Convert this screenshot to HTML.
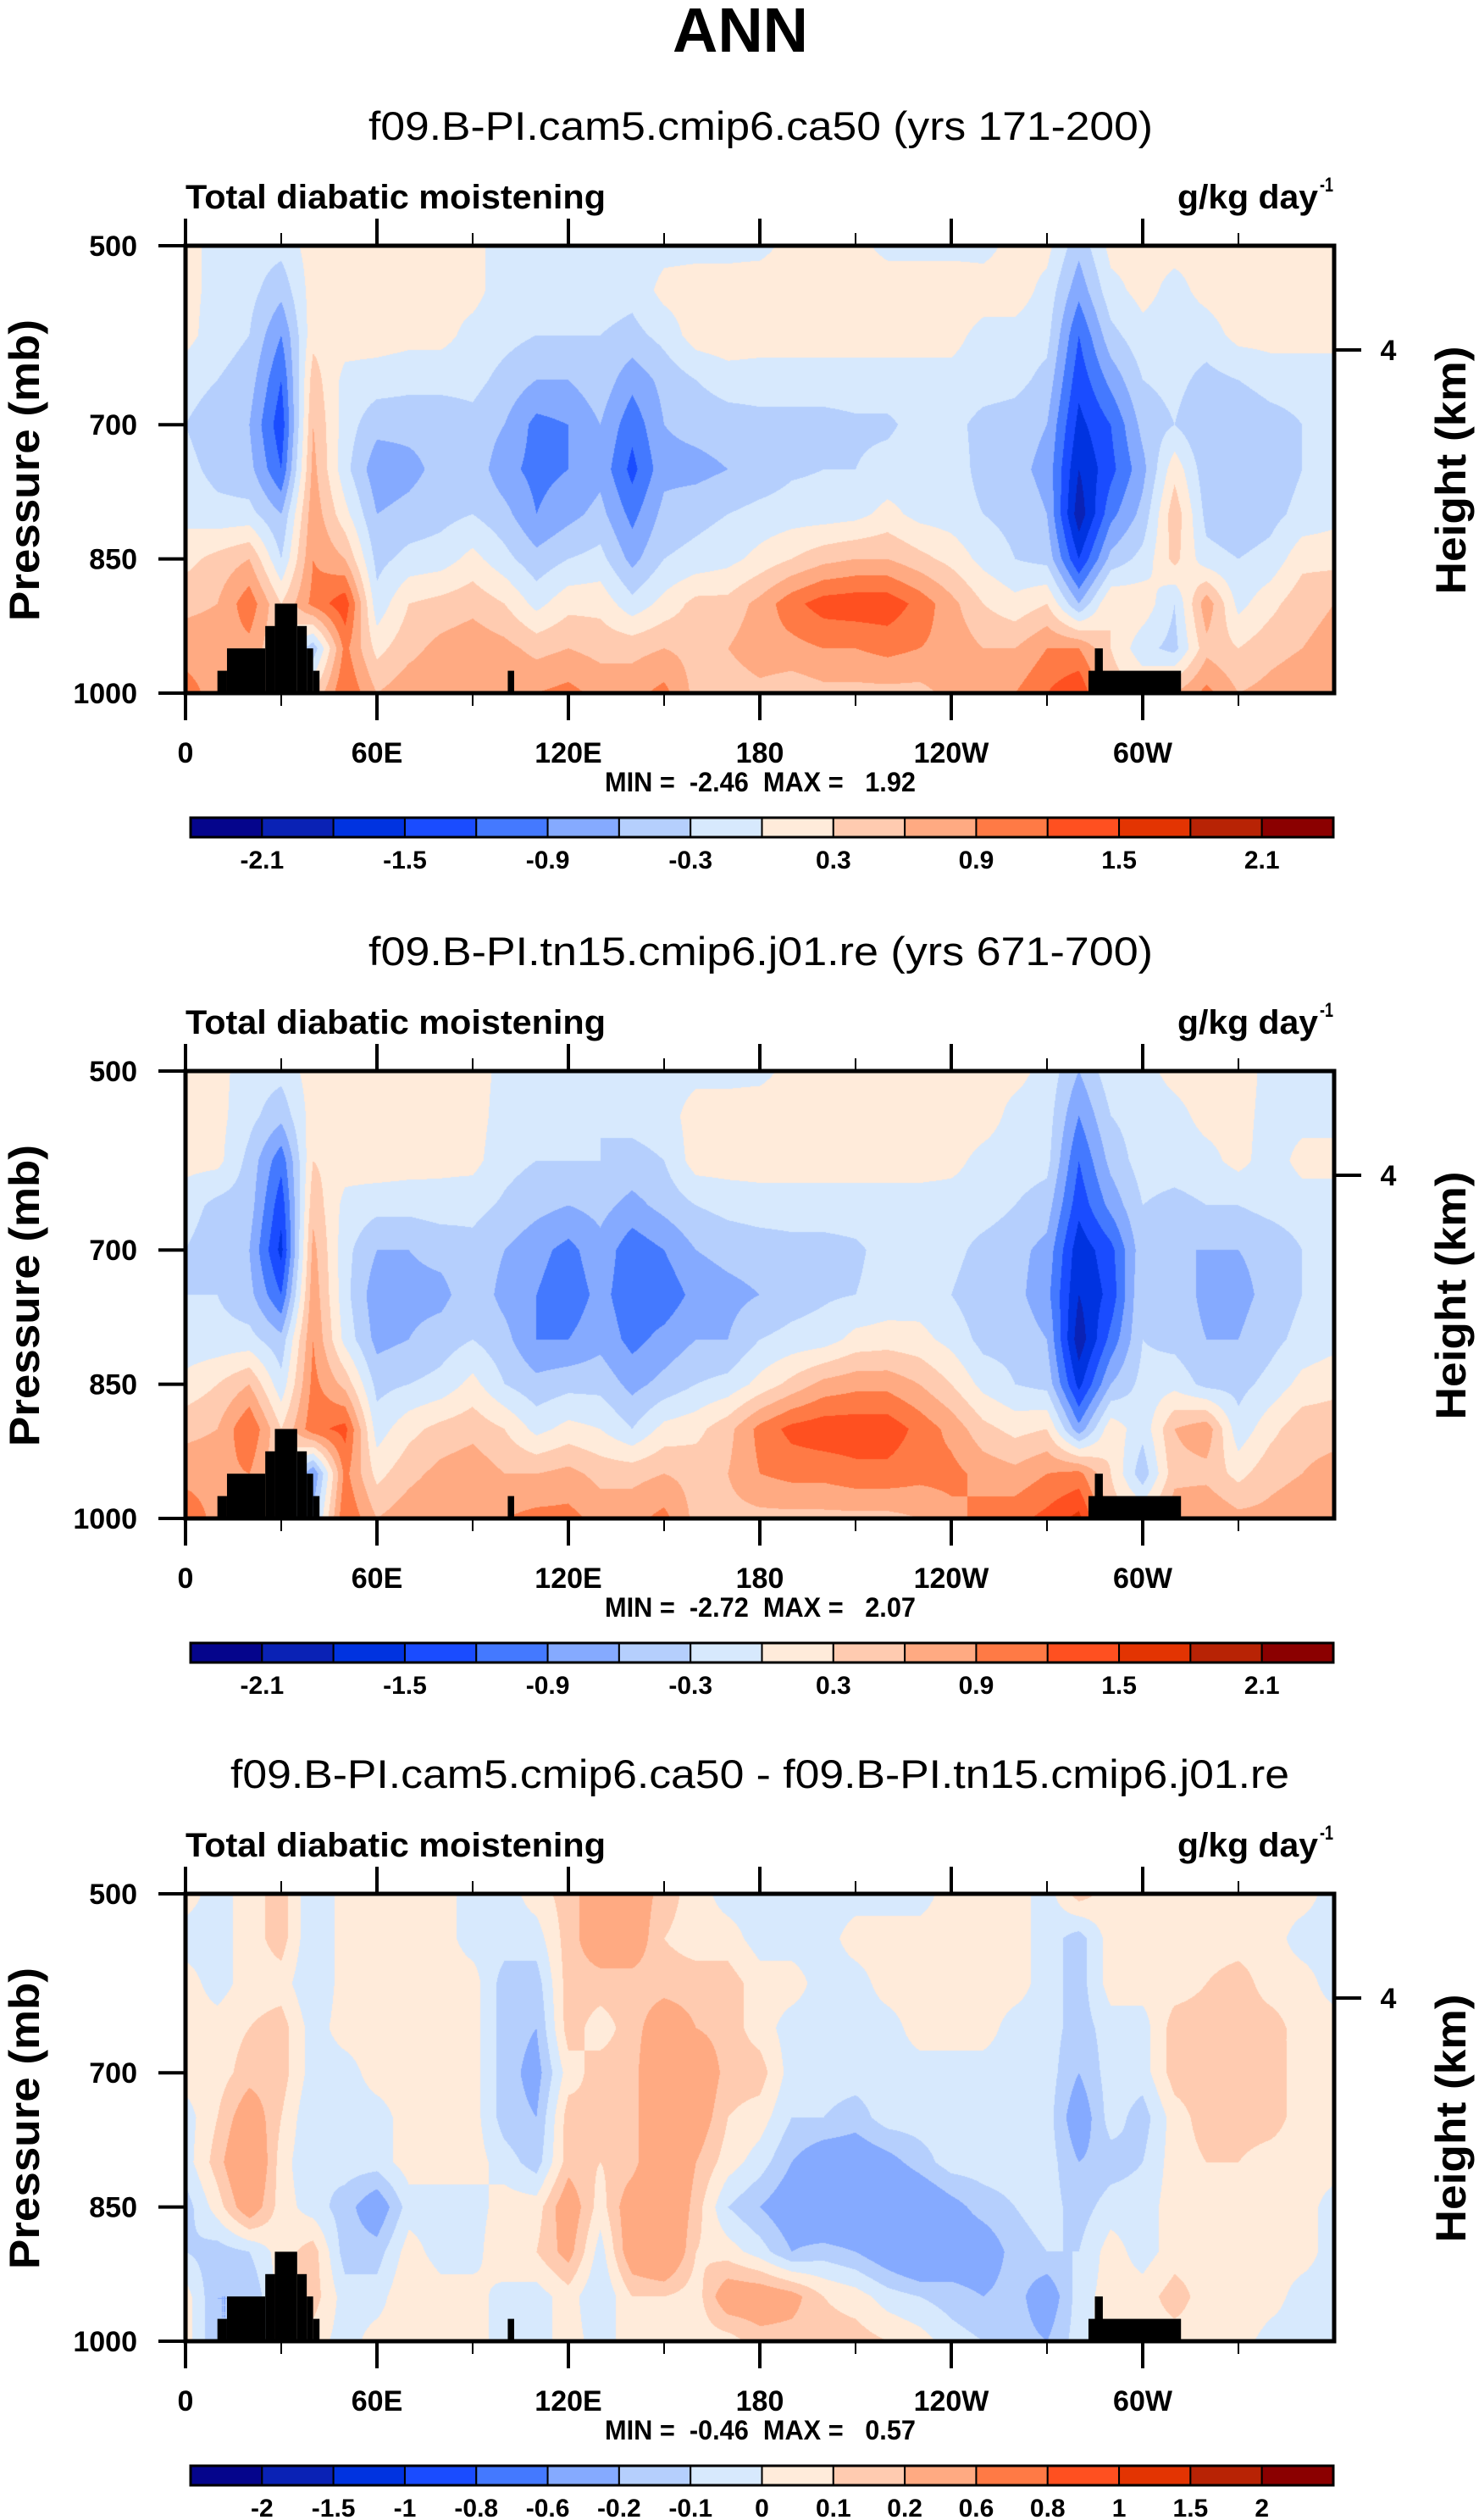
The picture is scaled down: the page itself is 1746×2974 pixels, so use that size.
<!DOCTYPE html>
<html><head><meta charset="utf-8">
<style>
body{margin:0;background:#fff;width:1746px;height:2974px;position:relative;overflow:hidden;font-family:"Liberation Sans",sans-serif}
canvas{position:absolute;left:219px}
svg{position:absolute;left:0;top:0}
text{white-space:pre}
</style></head>
<body>
<canvas id="c1" width="1356" height="528" style="top:290px"></canvas>
<canvas id="c2" width="1356" height="528" style="top:1264px"></canvas>
<canvas id="c3" width="1356" height="528" style="top:2235px"></canvas>
<svg id="s" width="1746" height="2974" xmlns="http://www.w3.org/2000/svg"></svg>
<script>
// ---- data ----
const lons = [0,10,20,30,40,50,60,70,80,90,100,110,120,130,140,150,160,170,180,190,200,210,220,230,240,250,260,270,280,290,300,310,320,330,340,350,360];
const plevs = [500,550,600,650,700,750,800,850,900,950,1000];
const p1 = [
[0.1,0.1,0.1,-0.15,-0.3,-0.2,-0.1,0.2,0.5,0.8,1.0],
[-0.1,-0.1,-0.15,-0.3,-0.5,-0.4,-0.2,0.4,0.6,0.8,0.8],
[-0.15,-0.2,-0.3,-0.45,-0.6,-0.5,-0.2,0.6,1.1,0.8,0.8],
[-0.2,-0.5,-0.9,-1.2,-1.4,-1.2,-0.6,-0.3,0.3,0.3,0.3],
[0.15,0.15,0.2,0.45,0.6,0.7,0.8,0.9,1.0,-0.5,0.3],
[0.15,0.15,0.15,-0.1,-0.15,-0.2,0.1,0.6,1.4,1.0,1.2],
[0.15,0.2,0.15,-0.15,-0.5,-0.8,-0.6,-0.4,-0.2,0.2,0.6],
[0.15,0.15,0.1,-0.2,-0.5,-0.7,-0.5,-0.2,0.3,0.5,0.8],
[0.1,0.1,0.1,-0.2,-0.5,-0.5,-0.4,-0.15,0.4,0.7,0.8],
[0.1,0.1,-0.1,-0.2,-0.4,-0.4,-0.3,0.1,0.5,0.8,0.9],
[-0.15,-0.15,-0.2,-0.4,-0.6,-0.8,-0.5,-0.2,0.3,0.7,0.9],
[-0.3,-0.2,-0.3,-0.6,-1.0,-1.0,-0.9,-0.5,-0.1,0.5,0.9],
[-0.2,-0.15,-0.3,-0.6,-0.9,-0.9,-0.7,-0.3,0.2,0.6,1.0],
[-0.1,-0.15,-0.3,-0.4,-0.6,-0.7,-0.5,-0.2,0.2,0.5,0.8],
[-0.2,-0.2,-0.4,-0.8,-1.1,-1.3,-1.0,-0.7,-0.2,0.5,0.8],
[-0.1,0.1,-0.2,-0.5,-0.6,-0.7,-0.5,-0.3,0.1,0.6,1.0],
[-0.1,0.15,0.15,-0.3,-0.5,-0.7,-0.4,-0.2,0.4,0.5,0.5],
[-0.1,0.15,0.2,-0.15,-0.45,-0.6,-0.3,-0.1,0.4,0.6,0.4],
[-0.1,0.2,0.15,-0.15,-0.4,-0.5,-0.2,0.1,0.7,0.8,0.5],
[0.1,0.2,0.15,-0.15,-0.4,-0.35,-0.15,0.3,1.1,0.8,0.4],
[0.1,0.2,0.15,-0.15,-0.4,-0.3,-0.15,0.5,1.35,0.9,0.5],
[0.1,0.2,0.15,-0.15,-0.35,-0.3,-0.1,0.6,1.4,0.9,0.5],
[-0.1,0.2,0.15,-0.15,-0.35,-0.2,0.1,0.6,1.4,1.0,0.5],
[-0.1,0.2,0.15,-0.15,-0.2,-0.15,-0.1,0.4,1.1,0.9,0.5],
[-0.1,0.2,0.1,-0.1,-0.2,-0.15,-0.15,0.2,0.7,0.8,0.7],
[-0.1,0.15,-0.1,-0.15,-0.4,-0.4,-0.3,-0.1,0.3,0.6,0.8],
[0.1,0.15,-0.1,-0.2,-0.45,-0.5,-0.4,-0.3,0.1,0.6,0.9],
[0.1,-0.1,-0.2,-0.4,-0.6,-0.7,-0.6,-0.4,0.3,0.9,1.2],
[-0.5,-0.8,-1.2,-1.4,-1.6,-1.8,-2.0,-1.5,-0.6,0.9,1.5],
[0.1,-0.1,-0.4,-0.8,-1.2,-1.3,-1.0,-0.5,0.3,0.3,0.5],
[0.1,0.1,-0.1,-0.3,-0.5,-0.7,-0.5,-0.2,0.2,-0.2,0.3],
[0.1,-0.1,-0.15,-0.2,-0.3,0.2,0.5,0.4,-0.3,-0.4,0.6],
[0.1,0.1,-0.15,-0.4,-0.6,-0.5,-0.4,-0.2,0.8,0.5,1.0],
[0.15,0.2,0.1,-0.3,-0.6,-0.6,-0.5,-0.3,-0.1,0.3,0.6],
[0.15,0.15,0.1,-0.15,-0.45,-0.5,-0.4,-0.2,0.2,0.5,0.7],
[0.15,0.15,0.1,-0.15,-0.3,-0.3,-0.2,0.2,0.5,0.6,0.8],
[0.15,0.15,0.1,-0.15,-0.2,-0.15,-0.1,0.2,0.6,0.7,0.9]
];
const p2 = [
[0.1,0.1,0.1,-0.15,-0.3,-0.3,-0.2,0.1,0.5,0.8,1.1],
[0.1,0.1,0.1,-0.4,-0.5,-0.3,-0.2,0.3,0.6,0.8,0.8],
[-0.15,-0.2,-0.4,-0.45,-0.6,-0.5,-0.2,0.6,1.2,0.9,0.9],
[-0.2,-0.5,-1.1,-1.4,-1.6,-1.2,-0.5,-0.2,0.3,0.3,0.3],
[0.15,0.15,0.3,0.5,0.7,0.8,0.9,1.0,1.1,-0.9,-0.5],
[0.15,0.15,0.15,-0.1,-0.2,-0.2,-0.1,0.5,1.3,1.0,1.2],
[0.15,0.2,0.2,-0.2,-0.6,-0.8,-0.7,-0.4,-0.15,0.2,0.6],
[0.15,0.2,0.15,-0.2,-0.6,-0.7,-0.6,-0.3,0.2,0.5,0.8],
[0.15,0.15,0.1,-0.15,-0.5,-0.7,-0.45,-0.2,0.4,0.7,0.9],
[0.15,0.15,0.1,-0.2,-0.4,-0.4,-0.3,0.1,0.5,0.8,0.9],
[-0.1,-0.15,-0.2,-0.35,-0.6,-0.7,-0.5,-0.3,0.3,0.6,0.9],
[-0.3,-0.2,-0.3,-0.5,-0.8,-0.9,-0.9,-0.5,-0.1,0.6,1.0],
[-0.2,-0.15,-0.3,-0.6,-1.0,-1.1,-0.9,-0.4,0.1,0.7,1.0],
[-0.3,-0.3,-0.3,-0.5,-0.7,-0.8,-0.7,-0.4,0.0,0.5,0.8],
[-0.3,-0.2,-0.4,-0.7,-1.1,-1.1,-1.0,-0.7,-0.3,0.5,0.8],
[-0.15,-0.15,-0.3,-0.5,-0.9,-1.1,-0.8,-0.5,0.1,0.6,1.0],
[-0.1,0.15,0.15,-0.3,-0.6,-0.8,-0.6,-0.3,0.2,0.5,0.5],
[-0.1,0.15,0.15,-0.2,-0.5,-0.7,-0.6,-0.2,0.5,0.6,0.5],
[-0.1,0.2,0.15,-0.15,-0.45,-0.6,-0.3,0.1,1.0,0.9,0.5],
[0.1,0.2,0.15,-0.15,-0.4,-0.45,-0.2,0.4,1.3,1.0,0.5],
[0.1,0.2,0.15,-0.15,-0.4,-0.35,-0.15,0.7,1.4,1.0,0.5],
[0.1,0.2,0.15,-0.15,-0.35,-0.3,0.1,0.8,1.4,1.1,0.5],
[0.1,0.2,0.15,-0.15,-0.2,-0.2,0.15,0.8,1.4,1.1,0.5],
[0.1,0.2,0.15,-0.15,-0.15,-0.15,0.1,0.6,1.1,1.0,0.6],
[0.1,0.2,0.1,-0.15,-0.2,-0.3,-0.1,0.3,0.8,1.0,0.8],
[0.1,0.15,-0.1,-0.15,-0.4,-0.5,-0.4,-0.1,0.4,0.8,1.0],
[0.1,-0.1,-0.15,-0.3,-0.5,-0.5,-0.4,-0.3,0.2,0.7,1.1],
[-0.1,-0.15,-0.2,-0.45,-0.7,-0.8,-0.6,-0.4,0.3,0.9,1.3],
[-0.6,-0.9,-1.2,-1.4,-1.7,-1.8,-2.0,-1.6,-0.8,1.0,1.6],
[-0.1,-0.3,-0.5,-0.8,-1.3,-1.4,-1.1,-0.6,0.2,0.3,0.5],
[-0.1,-0.15,-0.15,-0.3,-0.4,-0.3,-0.3,-0.2,-0.2,-0.5,0.3],
[0.1,-0.1,-0.15,-0.4,-0.6,-0.4,-0.4,-0.1,0.6,0.5,0.8],
[0.15,0.1,-0.1,-0.3,-0.6,-0.7,-0.6,-0.4,0.8,0.5,0.9],
[0.15,0.1,0.1,-0.3,-0.6,-0.7,-0.6,-0.4,-0.2,0.2,0.7],
[-0.1,-0.1,-0.15,-0.2,-0.5,-0.5,-0.4,-0.2,0.2,0.5,0.7],
[-0.1,-0.1,0.1,-0.15,-0.3,-0.3,-0.2,0.1,0.5,0.6,0.8],
[-0.1,-0.1,0.1,-0.15,-0.2,-0.15,-0.1,0.2,0.5,0.7,0.9]
];
const p3 = [
[0.05,-0.05,0.05,0.05,0.05,-0.05,-0.05,-0.15,-0.1,0.05,0.05],
[-0.05,-0.05,-0.05,0.05,0.05,0.1,0.15,0.05,-0.15,-0.2,-0.2],
[0.05,0.05,0.05,0.1,0.15,0.3,0.4,0.3,-0.1,-0.2,-0.2],
[0.15,0.15,0.05,0.15,0.15,0.1,0.05,0.05,0.05,0.05,0.05],
[-0.1,-0.1,-0.1,-0.05,-0.05,-0.1,-0.1,-0.05,0.15,0.15,0.05],
[0.05,0.05,0.05,0.05,-0.05,-0.05,-0.05,-0.15,-0.15,-0.05,-0.05],
[0.05,0.05,0.05,0.05,0.05,-0.05,-0.05,-0.3,-0.15,-0.05,0.05],
[0.05,0.05,0.05,0.05,0.05,0.05,0.05,-0.05,0.05,0.1,0.05],
[0.05,0.05,0.05,0.05,0.05,0.05,0.05,-0.05,-0.05,0.05,0.05],
[-0.05,-0.05,0.05,0.05,0.05,0.05,0.05,-0.05,-0.05,0.05,0.05],
[-0.05,-0.05,-0.15,-0.15,-0.15,-0.15,-0.05,0.05,0.1,-0.05,-0.05],
[0.05,-0.05,-0.15,-0.2,-0.25,-0.2,-0.15,0.05,0.1,-0.05,-0.05],
[0.15,0.15,0.15,0.15,0.05,0.15,0.15,0.3,0.25,0.05,0.05],
[0.3,0.3,0.15,0.05,0.15,0.1,0.1,0.05,-0.05,-0.1,-0.05],
[0.3,0.3,0.15,0.15,0.15,0.15,0.15,0.3,0.3,0.1,0.05],
[0.15,0.1,0.15,0.3,0.4,0.4,0.4,0.4,0.4,0.1,0.05],
[0.05,0.05,0.15,0.2,0.35,0.3,0.2,0.15,0.1,0.05,0.05],
[-0.05,0.05,0.15,0.15,0.15,0.1,0.05,-0.1,0.05,0.3,0.05],
[-0.05,-0.05,0.05,0.05,0.15,0.05,-0.05,-0.2,-0.05,0.3,0.15],
[-0.05,-0.05,0.05,-0.05,-0.05,-0.1,-0.2,-0.3,-0.2,0.25,0.15],
[-0.05,-0.05,-0.05,-0.05,-0.05,-0.1,-0.3,-0.4,-0.15,0.1,0.15],
[-0.05,0.05,-0.05,-0.05,-0.05,-0.15,-0.3,-0.4,-0.2,0.05,0.15],
[-0.05,0.05,0.05,-0.05,-0.05,-0.05,-0.25,-0.4,-0.3,-0.05,0.1],
[-0.05,0.05,0.05,0.05,-0.05,-0.05,-0.15,-0.35,-0.4,-0.1,0.05],
[0.05,0.05,0.05,0.05,-0.05,-0.05,-0.05,-0.25,-0.3,-0.15,-0.05],
[0.05,0.05,0.05,0.05,-0.05,-0.05,-0.05,-0.15,-0.3,-0.2,-0.1],
[0.05,0.05,0.05,-0.05,-0.05,-0.05,-0.05,-0.1,-0.15,-0.15,-0.15],
[-0.05,-0.05,-0.05,-0.05,-0.05,-0.05,-0.05,-0.05,-0.1,-0.3,-0.2],
[0.15,-0.15,-0.15,-0.15,-0.2,-0.3,-0.2,-0.15,-0.1,-0.05,-0.05],
[0.05,0.05,0.05,-0.05,-0.05,-0.05,-0.15,-0.05,0.05,0.05,0.05],
[0.05,0.05,0.05,-0.05,-0.05,-0.15,-0.1,-0.05,-0.05,0.05,0.05],
[0.05,0.05,0.05,0.15,0.15,0.05,0.05,0.05,0.05,0.15,0.05],
[0.05,0.05,0.1,0.15,0.15,0.15,0.1,0.05,0.05,0.05,0.05],
[0.05,0.05,0.15,0.15,0.15,0.15,0.1,0.05,0.05,0.1,0.05],
[0.05,0.05,0.05,0.15,0.15,0.15,0.05,0.05,0.05,0.05,-0.05],
[0.05,-0.05,0.05,0.05,0.05,0.05,0.05,0.05,0.05,-0.05,-0.05],
[-0.05,-0.05,-0.05,0.05,0.05,0.05,0.05,-0.05,-0.05,-0.05,-0.05]
];
const levels12 = [-2.1,-1.8,-1.5,-1.2,-0.9,-0.6,-0.3,0,0.3,0.6,0.9,1.2,1.5,1.8,2.1];
const levels3 = [-2,-1.5,-1,-0.8,-0.6,-0.2,-0.1,0,0.1,0.2,0.6,0.8,1,1.5,2];
const cbLabels12 = ['','-2.1','','-1.5','','-0.9','','-0.3','','0.3','','0.9','','1.5','','2.1'];
const cbLabels3 = ['','-2','-1.5','-1','-0.8','-0.6','-0.2','-0.1','0','0.1','0.2','0.6','0.8','1','1.5','2'];
const palette = ['#05058c','#0a22b5','#0033e0','#1a4cff','#4479ff','#85aaff','#b5cffd','#d7e9fd','#ffebda','#ffcbb0','#ffaa82','#ff7a45','#ff5020','#e33402','#b82305','#8b0000'];
const topoSteps = [[10,13,975],[13,25,950],[25,28,925],[28,35,900],[35,38,925],[38,40,950],[40,42,975],[101,103,975],[283,312,975],[285,287.5,950]];
const xTickVals = [0,60,120,180,240,300];
const xTickLabels = ['0','60E','120E','180','120W','60W'];
const yTickVals = [500,700,850,1000];
const minVals = ['-2.46','-2.72','-0.46'];
const maxVals = ['1.92','2.07','0.57'];
const subtitles = ['f09.B-PI.cam5.cmip6.ca50 (yrs 171-200)','f09.B-PI.tn15.cmip6.j01.re (yrs 671-700)','f09.B-PI.cam5.cmip6.ca50 - f09.B-PI.tn15.cmip6.j01.re'];

// ---- geometry ----
const X0 = 219, W = 1356, Y0 = 290, H = 528;
const offsets = [0, 974, 1945];
function xs(lon){ return X0 + lon/360*W; }
function ys(p, off){ return off + Y0 + (p-500)/500*H; }

function hex(c){ return [parseInt(c.substr(1,2),16),parseInt(c.substr(3,2),16),parseInt(c.substr(5,2),16)]; }
const palRGB = palette.map(hex);

function drawField(id, vals, levs){
  const cv = document.getElementById(id);
  const ctx = cv.getContext('2d');
  const img = ctx.createImageData(W, H);
  const nL = lons.length, nP = plevs.length;
  for (let py=0; py<H; py++){
    const p = 500 + (py+0.5)/H*500;
    let j = 0; while (j < nP-2 && plevs[j+1] < p) j++;
    const fy = Math.min(1, Math.max(0, (p-plevs[j])/(plevs[j+1]-plevs[j])));
    for (let px=0; px<W; px++){
      const lon = (px+0.5)/W*360;
      let i = 0; while (i < nL-2 && lons[i+1] < lon) i++;
      const fx = Math.min(1, Math.max(0, (lon-lons[i])/(lons[i+1]-lons[i])));
      const v = (vals[i][j]*(1-fx) + vals[i+1][j]*fx)*(1-fy) + (vals[i][j+1]*(1-fx) + vals[i+1][j+1]*fx)*fy;
      let k = 0; while (k < levs.length && v >= levs[k]) k++;
      const c = palRGB[k];
      const o = (py*W+px)*4;
      img.data[o]=c[0]; img.data[o+1]=c[1]; img.data[o+2]=c[2]; img.data[o+3]=255;
    }
  }
  ctx.putImageData(img, 0, 0);
}
drawField('c1', p1, levels12);
drawField('c2', p2, levels12);
drawField('c3', p3, levels3);

// ---- svg overlay ----
const NS = 'http://www.w3.org/2000/svg';
const svg = document.getElementById('s');
function mk(tag, attrs, parent, name){
  const el = document.createElementNS(NS, tag);
  for (const k in attrs) el.setAttribute(k, attrs[k]);
  
  
  (parent||svg).appendChild(el);
  return el;
}
function txt(parent, x, y, s, size, weight, anchor, len, name){
  const el = mk('text', {x:x, y:y, 'font-size':size, 'font-weight':weight, 'text-anchor':anchor, 'font-family':'Liberation Sans, sans-serif', fill:'#000'}, parent, name);
  if (len){ el.setAttribute('textLength', len); el.setAttribute('lengthAdjust', 'spacingAndGlyphs'); }
  el.textContent = s;
  return el;
}

txt(svg, 874, 61, 'ANN', 74, 'bold', 'middle', 160, 'main-title');

for (let n=0; n<3; n++){
  const off = offsets[n];
  const g = mk('g', {}, svg, 'panel-' + (n+1));
  if (n < 2) txt(g, 435, 165+off, subtitles[n], 47, 'normal', 'start', 926, 'panel-title');
  else txt(g, 272, 165+off, subtitles[n], 47, 'normal', 'start', 1250, 'panel-title');
  txt(g, 219, 246+off, 'Total diabatic moistening', 40, 'bold', 'start', 496, 'variable-name');
  txt(g, 1390, 246+off, 'g/kg day', 40, 'bold', 'start', 166, 'units-label');
  txt(g, 1558, 226+off, '-1', 24, 'bold', 'start', 16, 'units-superscript');
  for (let t=0; t<topoSteps.length; t++){
    const st = topoSteps[t];
    mk('rect', {x:xs(st[0]), y:ys(st[2],off), width:xs(st[1])-xs(st[0]), height:ys(1000,off)-ys(st[2],off), fill:'#000'}, g, 'topography-block');
  }
  mk('rect', {x:X0, y:Y0+off, width:W, height:H, fill:'none', stroke:'#000', 'stroke-width':5}, g, 'plot-frame');
  for (let lon=0; lon<360; lon+=30){
    const major = lon % 60 === 0;
    const len = major ? 32 : 15;
    const sw = major ? 4 : 2;
    mk('line', {x1:xs(lon), x2:xs(lon), y1:Y0+off, y2:Y0+off-len, stroke:'#000', 'stroke-width':sw}, g, 'x-tick-top');
    mk('line', {x1:xs(lon), x2:xs(lon), y1:Y0+H+off, y2:Y0+H+off+len, stroke:'#000', 'stroke-width':sw}, g, 'x-tick-bottom');
  }
  for (let t=0; t<xTickVals.length; t++){
    txt(g, xs(xTickVals[t]), 900+off, xTickLabels[t], 34, 'bold', 'middle', null, 'x-tick-label');
  }
  for (let t=0; t<yTickVals.length; t++){
    const y = ys(yTickVals[t], off);
    mk('line', {x1:X0, x2:X0-32, y1:y, y2:y, stroke:'#000', 'stroke-width':4}, g, 'y-tick');
    txt(g, 162, y+12, String(yTickVals[t]), 34, 'bold', 'end', null, 'y-tick-label');
  }
  mk('line', {x1:X0+W, x2:X0+W+32, y1:413+off, y2:413+off, stroke:'#000', 'stroke-width':4}, g, 'height-tick');
  txt(g, 1639, 425+off, '4', 34, 'bold', 'middle', null, 'height-tick-label');
  const ya = mk('g', {transform:'translate(28,' + (555+off) + ') rotate(-90)'}, g, 'y-axis-title-group');
  txt(ya, 0, 18, 'Pressure (mb)', 50, 'bold', 'middle', 356, 'y-axis-title');
  const yb = mk('g', {transform:'translate(1712,' + (555+off) + ') rotate(-90)'}, g, 'right-axis-title-group');
  txt(yb, 0, 18, 'Height (km)', 50, 'bold', 'middle', 293, 'right-axis-title');
  txt(g, 714, 934+off, 'MIN =  ' + minVals[n] + '  MAX =   ' + maxVals[n], 32, 'bold', 'start', 367, 'min-max-label');
  const cbx0 = 225, cbx1 = 1574, cby = 965+off, cbh = 23;
  const bw = (cbx1-cbx0)/16;
  for (let k=0; k<16; k++){
    mk('rect', {x:cbx0+k*bw, y:cby, width:bw, height:cbh, fill:palette[k], stroke:'#000', 'stroke-width':2}, g, 'colorbar-box');
  }
  mk('rect', {x:cbx0, y:cby, width:cbx1-cbx0, height:cbh, fill:'none', stroke:'#000', 'stroke-width':3}, g, 'colorbar-frame');
  const labs = n < 2 ? cbLabels12 : cbLabels3;
  for (let k=1; k<16; k++){
    if (labs[k]) txt(g, cbx0+k*bw, 1025+off, labs[k], 30, 'bold', 'middle', null, 'colorbar-label');
  }
}
</script>
</body></html>
